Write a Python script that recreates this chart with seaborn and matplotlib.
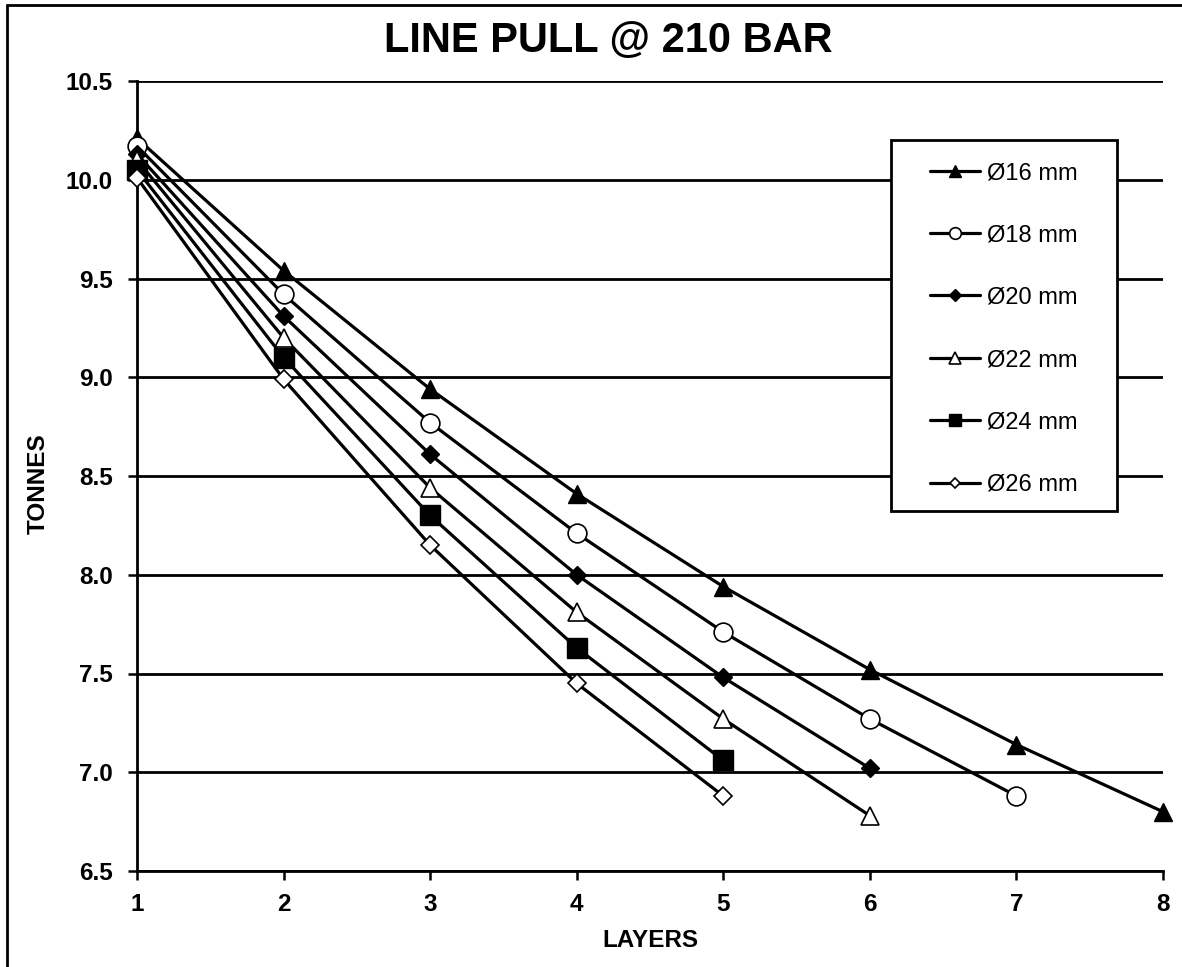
import matplotlib
matplotlib.use("Agg")
import matplotlib.pyplot as plt
from matplotlib.patches import Rectangle
from matplotlib.lines import Line2D
import seaborn as sns
import pandas as pd

# ---- data ----
layers = [1, 2, 3, 4, 5, 6, 7, 8]
d16 = [10.21, 9.54, 8.94, 8.41, 7.94, 7.52, 7.14, 6.80]
d18 = [10.17, 9.42, 8.77, 8.21, 7.71, 7.27, 6.88]
d20 = [10.13, 9.31, 8.61, 8.00, 7.48, 7.02]
d22 = [10.10, 9.20, 8.44, 7.81, 7.27, 6.78]
d24 = [10.05, 9.10, 8.30, 7.63, 7.06]
d26 = [10.01, 8.99, 8.15, 7.45, 6.88]
labels = ["Ø16 mm", "Ø18 mm", "Ø20 mm", "Ø22 mm", "Ø24 mm", "Ø26 mm"]
x_ticks = [1, 2, 3, 4, 5, 6, 7, 8]
y_ticks = [6.5, 7.0, 7.5, 8.0, 8.5, 9.0, 9.5, 10.0, 10.5]
title = "LINE PULL @ 210 BAR"
x_label = "LAYERS"
y_label = "TONNES"

series = [d16, d18, d20, d22, d24, d26]

# marker styles: (marker, size, facecolor, edgewidth)
styles = [
    ("^", 13.5, "black", 1.0),
    ("o", 13.5, "white", 1.2),
    ("D", 9.5, "black", 1.0),
    ("^", 13.5, "white", 1.2),
    ("s", 14.0, "black", 1.0),
    ("D", 9.0, "white", 1.2),
]

sns.set_style("ticks")
plt.rcParams["font.family"] = ["Liberation Sans", "DejaVu Sans"]
plt.rcParams["text.color"] = "black"
plt.rcParams["axes.labelcolor"] = "black"
plt.rcParams["xtick.color"] = "black"
plt.rcParams["ytick.color"] = "black"

W, H = 1182, 967
fig = plt.figure(figsize=(W / 100, H / 100), dpi=100)
L, R, T, B = 137, 1163, 81, 871
ax = fig.add_axes([L / W, 1 - B / H, (R - L) / W, (B - T) / H])

for vals, lab, (mk, ms, fc, mew) in zip(series, labels, styles):
    df = pd.DataFrame({"layer": layers[:len(vals)], "t": vals})
    sns.lineplot(data=df, x="layer", y="t", ax=ax, color="black",
                 linewidth=2.3, marker=mk, markersize=ms,
                 markerfacecolor=fc, markeredgecolor="black",
                 markeredgewidth=mew, label=lab, clip_on=False, zorder=3)

ax.set_xlim(1, 8)
ax.set_ylim(6.5, 10.5)
ax.set_xticks(x_ticks)
ax.set_xticklabels([str(v) for v in x_ticks])
ax.set_yticks(y_ticks)
ax.set_yticklabels([f"{v:.1f}" for v in y_ticks])

for yv in y_ticks:
    ax.axhline(yv, color="black", linewidth=2.0, zorder=1)

for s in ["top", "right"]:
    ax.spines[s].set_visible(False)
for s in ["left", "bottom"]:
    ax.spines[s].set_color("black")
    ax.spines[s].set_linewidth(2.0)

ax.tick_params(axis="both", direction="out", length=6.5, width=1.8,
               color="black", labelsize=17.5, labelcolor="black")
ax.tick_params(axis="y", pad=11)
ax.tick_params(axis="x", pad=9)
for lbl in ax.get_xticklabels() + ax.get_yticklabels():
    lbl.set_fontweight("bold")

ax.set_xlabel(x_label, fontsize=17.5, fontweight="bold", labelpad=10,
              color="black")
ax.set_ylabel(y_label, fontsize=17.5, fontweight="bold", labelpad=12,
              color="black")
ax.yaxis.set_label_coords(-0.085, 0.49)

fig.text(608 / W, 1 - 41 / H, title, ha="center", va="center",
         fontsize=30, fontweight="bold", color="black")

# legend box
box = Rectangle((891 / W, 1 - 511 / H), (1117 - 891) / W, (511 - 140) / H,
                transform=fig.transFigure, facecolor="white",
                edgecolor="black", linewidth=2.0, zorder=4)
ax.add_patch(box)
box.set_clip_on(False)

handles, labs = ax.get_legend_handles_labels()
leg = ax.legend(handles, labs, loc="upper left",
                bbox_to_anchor=(930 / W, 1 - 162 / H),
                bbox_transform=fig.transFigure, frameon=False,
                fontsize=17, borderpad=0, borderaxespad=0,
                handlelength=2.1, handletextpad=0.3, labelspacing=1.71,
                markerscale=0.62)
leg.set_zorder(6)
for t in leg.get_texts():
    t.set_color("black")

# outer frame (left and top edges visible)
fig.add_artist(Line2D([7 / W, 7 / W], [0, 1 - 5 / H], color="black",
                      linewidth=2.0, transform=fig.transFigure))
fig.add_artist(Line2D([7 / W, 1], [1 - 5 / H, 1 - 5 / H], color="black",
                      linewidth=2.0, transform=fig.transFigure))

fig.savefig("out.png", dpi=100, facecolor="white")
